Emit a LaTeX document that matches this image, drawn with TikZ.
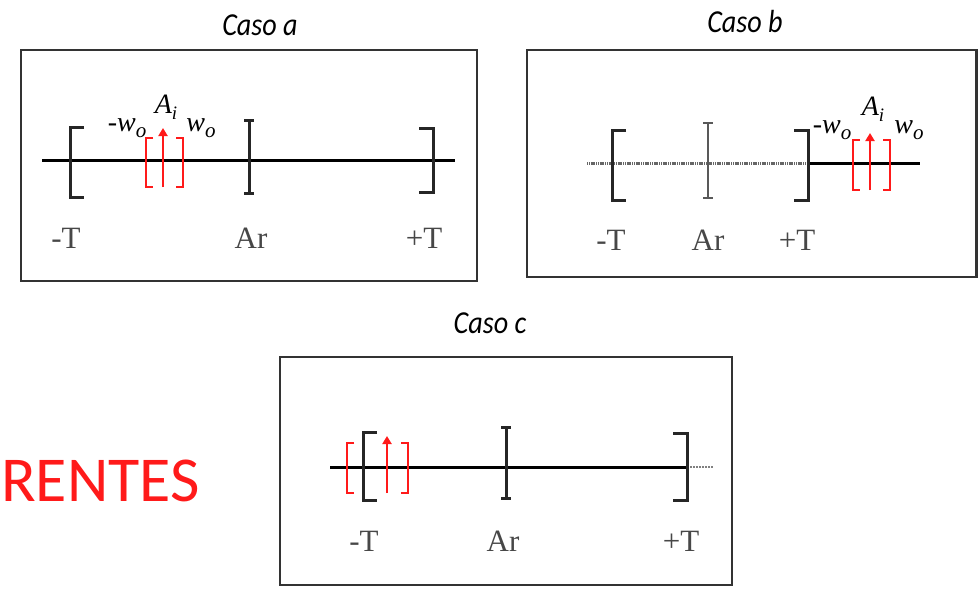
\documentclass[tikz,border=0pt]{standalone}
\usepackage{fontspec}
\setmainfont{Liberation Serif}
\newfontfamily\titlefont{Carlito}
\usetikzlibrary{arrows.meta}
\definecolor{frameg}{HTML}{333333}
\definecolor{redc}{HTML}{FF1A1A}
\tikzset{
  frame/.style={draw=frameg,line width=2.6pt},
  axis/.style={draw=black,line width=3pt},
  brk/.style={draw=black!85,line width=3pt},
  tick/.style={draw=black!85,line width=3pt},
  rbrk/.style={draw=redc,line width=2pt},
  rarr/.style={draw=redc,line width=2pt,-{Triangle[length=8pt,width=9pt]}},
  ttl/.style={font=\titlefont\itshape\fontsize{32}{33}\selectfont,inner sep=0pt,xscale=0.88},
  lbl/.style={font=\fontsize{31}{32}\selectfont,text=black!72,inner sep=0pt},
  mlbl/.style={font=\itshape\fontsize{28}{29}\selectfont,inner sep=0pt},
}
\newcommand{\subo}{\raisebox{-6pt}{\fontsize{21}{21}\selectfont\textit{o}}}
\newcommand{\subi}{\raisebox{-6pt}{\fontsize{19}{19}\selectfont\textit{i}}}
\begin{document}
\begin{tikzpicture}[x=1pt,y=-1pt]
\useasboundingbox (0,0) rectangle (978,589);
% ---------------- Caso a
\node[ttl] (ta) at (260,25) {Caso a};
\draw[frame] (21,50) rectangle (477,281);
\coordinate (a1) at (42,160); \coordinate (a2) at (455,160);
\draw[axis] (a1) -- (a2);
\draw[brk] (84,127) -| (70,197) -- (84,197);
\draw[tick] (249,120) -- (249,193) (244,120) -- (254,120) (244,193) -- (254,193);
\draw[brk] (419,128) -| (433,192) -- (419,192);
\draw[rbrk] (153,138) -| (146,187) -- (153,187);
\draw[rbrk] (176,138) -| (183,187) -- (176,187);
\coordinate (aa0) at (163,187); \coordinate (aa1) at (163,128);
\draw[rarr] (aa0) -- (aa1);
\node[mlbl] (amw) at (127,128) {-\textit{w}\subo};
\node[mlbl] (aai) at (166,107) {\textit{A}\subi};
\node[mlbl] (apw) at (201,128) {\textit{w}\subo};
\node[lbl] (amt) at (66,238) {-T};
\node[lbl] (aar) at (251,238) {Ar};
\node[lbl] (apt) at (424,238) {+T};
% ---------------- Caso b
\node[ttl] (tb) at (745,22) {Caso b};
\draw[frame] (527,50) rectangle (976.7,277);
\coordinate (b1) at (587,163); \coordinate (b2) at (808,163); \coordinate (b3) at (920,163);
\draw[draw=black!60,line width=3pt,dash pattern=on 1.2pt off 0.6pt] (b1) -- (b2);
\draw[axis] (b2) -- (b3);
\draw[brk] (626,130) -| (612,200) -- (626,200);
\draw[tick,draw=black!65,line width=2.4pt] (708,123) -- (708,198) (703,123) -- (713,123) (703,198) -- (713,198);
\draw[brk] (794,130) -| (808,200) -- (794,200);
\draw[rbrk] (860,140) -| (853,190) -- (860,190);
\draw[rbrk] (883,140) -| (890,190) -- (883,190);
\coordinate (ba0) at (870,190); \coordinate (ba1) at (870,133);
\draw[rarr] (ba0) -- (ba1);
\node[mlbl] (bmw) at (832,130) {-\textit{w}\subo};
\node[mlbl] (bai) at (873,109) {\textit{A}\subi};
\node[mlbl] (bpw) at (909,130) {\textit{w}\subo};
\node[lbl] (bmt) at (611,240) {-T};
\node[lbl] (bar) at (708,240) {Ar};
\node[lbl] (bpt) at (797,240) {+T};
% ---------------- Caso c
\node[ttl] (tc) at (490,323) {Caso c};
\draw[frame] (280,357) rectangle (732,585);
\coordinate (c1) at (330,467); \coordinate (c2) at (687,467); \coordinate (c3) at (713,467);
\draw[axis] (c1) -- (c2);
\draw[draw=black!50,line width=1.5pt,dash pattern=on 2pt off 1pt] (c2) -- (c3);
\draw[brk] (377,432) -| (363,500) -- (377,500);
\draw[tick] (506,427) -- (506,498) (501,427) -- (511,427) (501,498) -- (511,498);
\draw[brk] (673,433) -| (687,500) -- (673,500);
\draw[rbrk] (354,443) -| (347,493) -- (354,493);
\draw[rbrk] (401,443) -| (408,493) -- (401,493);
\coordinate (ca0) at (387,493); \coordinate (ca1) at (387,436);
\draw[rarr] (ca0) -- (ca1);
\node[lbl] (cmt) at (364,541) {-T};
\node[lbl] (car) at (503,541) {Ar};
\node[lbl] (cpt) at (681,541) {+T};
% ---------------- RENTES
\node[font=\titlefont\fontsize{64}{64}\selectfont,text=redc,inner sep=0pt,anchor=west] (rentes) at (1,481) {RENTES};
\end{tikzpicture}
\end{document}
